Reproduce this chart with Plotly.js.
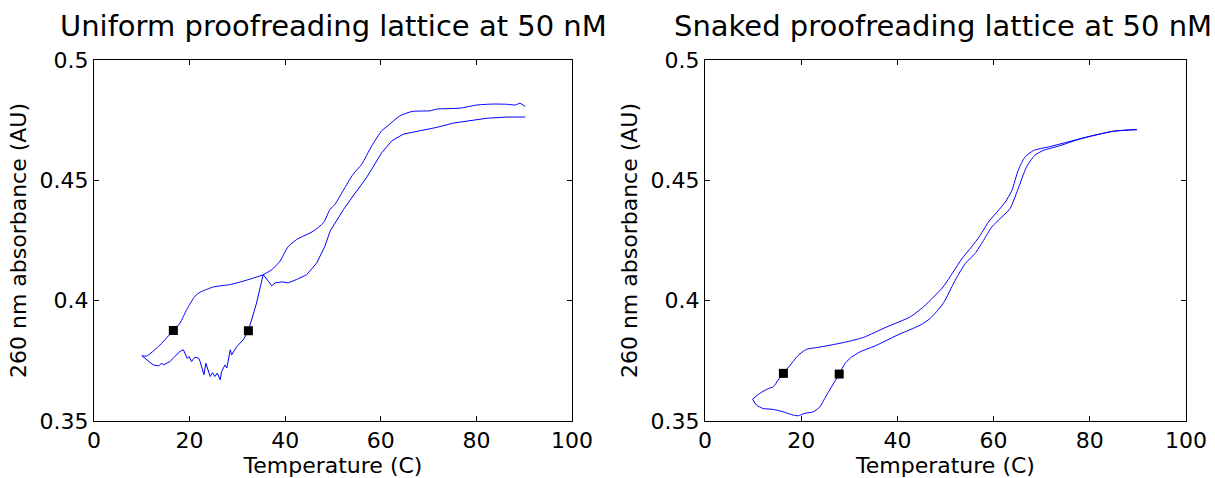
<!DOCTYPE html>
<html><head><meta charset="utf-8">
<script src="https://cdn.plot.ly/plotly-3.0.1.min.js"></script>
<style>html,body{margin:0;padding:0;background:#fff}#chart{width:1215px;height:478px}</style>
</head><body><div id="chart"></div>
<script>
// Uniform lattice: heating (lower path) and cooling (upper path)
const uniformHeatT = [10.0,11.4,12.4,13.5,14.2,14.5,15.4,15.9,16.9,18.0,18.7,19.5,19.9,20.4,21.1,21.9,22.2,22.5,23.0,23.4,23.9,24.3,24.8,25.3,25.8,26.4,26.7,27.4,27.8,28.1,28.5,28.8,29.9,31.2,32.3,34.0,35.4,37.2,37.9,39.3,40.6,42.4,44.5,46.6,48.3,49.4,52.2,54.2,57.0,60.2,62.3,64.7,68.2,71.7,75.2,80.1,82.2,86.3,90.2];
const uniformHeatA = [0.3771,0.3747,0.3733,0.3729,0.374,0.3733,0.374,0.3747,0.3768,0.3789,0.3796,0.376,0.3768,0.3747,0.3765,0.3761,0.3747,0.3726,0.3692,0.374,0.3705,0.3685,0.3701,0.3685,0.3699,0.3671,0.3705,0.3733,0.372,0.3761,0.3796,0.3775,0.381,0.3837,0.3875,0.399,0.4108,0.4062,0.4074,0.4078,0.4074,0.4088,0.4108,0.4157,0.4226,0.4289,0.4379,0.4435,0.4511,0.4615,0.4664,0.4692,0.4706,0.472,0.4738,0.475,0.4758,0.4763,0.4763];
const uniformCoolT = [90.2,89.1,88.1,86.3,83.5,80.1,76.6,71.7,70.3,66.5,64.0,61.6,60.2,58.1,56.0,54.2,52.5,50.4,49.4,48.0,45.9,42.4,40.6,38.9,37.2,35.4,31.9,28.5,25.0,22.2,21.1,19.4,18.0,16.6,13.5,11.0,10.0];
const uniformCoolA = [0.4807,0.482,0.4813,0.4816,0.4817,0.4813,0.48,0.4796,0.4789,0.4786,0.4768,0.4729,0.4706,0.4643,0.4567,0.4525,0.447,0.44,0.438,0.4324,0.4289,0.4254,0.4224,0.4164,0.4129,0.4108,0.4085,0.4067,0.4057,0.4035,0.4018,0.3963,0.3907,0.3876,0.381,0.377,0.3771];
const uniformMarkT = [16.6, 32.3];
const uniformMarkA = [0.3876, 0.3875];

// Snaked lattice
const snakedHeatT = [9.9,10.7,12.1,14.2,16.3,18.4,19.4,20.8,22.5,23.9,24.9,26.3,27.9,29.1,30.5,32.2,35.7,39.9,44.7,46.8,49.5,52.0,54.1,56.1,57.9,59.6,61.3,63.4,65.1,66.8,68.5,70.3,73.8,78.0,84.9,89.8];
const snakedHeatA = [0.3591,0.3566,0.3552,0.3548,0.3538,0.3524,0.3522,0.3532,0.3538,0.3559,0.3594,0.3642,0.3695,0.3739,0.3766,0.3787,0.3815,0.3856,0.3898,0.3926,0.3988,0.4084,0.4154,0.4195,0.425,0.4306,0.434,0.4382,0.4465,0.4554,0.4603,0.4624,0.4644,0.4672,0.4704,0.471];
const snakedCoolT = [89.8,84.9,80.0,75.9,71.7,68.3,66.5,65.1,63.8,62.4,60.7,58.9,57.2,55.4,53.4,51.6,49.5,47.5,45.4,42.6,37.8,32.9,29.5,26.0,23.2,21.1,19.4,17.7,16.3,15.2,14.2,13.2,11.4,9.9];
const snakedCoolA = [0.4712,0.4704,0.4683,0.4662,0.464,0.4624,0.4596,0.4541,0.4458,0.4409,0.4368,0.4326,0.4271,0.4223,0.4174,0.4119,0.4057,0.4015,0.3974,0.3932,0.3891,0.3847,0.3829,0.3815,0.3805,0.3798,0.3773,0.3732,0.3698,0.367,0.3642,0.3635,0.3615,0.3591];
const snakedMarkT = [16.3, 27.9];
const snakedMarkA = [0.3698, 0.3695];

const xTickVals = [0,20,40,60,80,100];
const xTickText = ['0','20','40','60','80','100'];
const yTickVals = [0.35,0.4,0.45,0.5];
const yTickText = ['0.35','0.4','0.45','0.5'];

const titles = ['Uniform proofreading lattice at 50 nM','Snaked proofreading lattice at 50 nM'];
const xLabel = 'Temperature (C)';
const yLabel = '260 nm absorbance (AU)';

const markStyle = {symbol:'square', size:9, color:'#000000'};
function line(x,y,xa,ya,smooth){
  const ln = {color:'#0000ff', width:1};
  if (smooth) { ln.shape = 'spline'; ln.smoothing = 0.6; }
  return {x:x,y:y,xaxis:xa,yaxis:ya,mode:'lines',line:ln,hoverinfo:'skip'};
}
function marks(x,y,xa,ya){return {x:x,y:y,xaxis:xa,yaxis:ya,mode:'markers',marker:markStyle,hoverinfo:'skip'};}

const data = [
  line(uniformHeatT,uniformHeatA,'x','y',false),
  line(uniformCoolT,uniformCoolA,'x','y',true),
  marks(uniformMarkT,uniformMarkA,'x','y'),
  line(snakedHeatT,snakedHeatA,'x2','y2',true),
  line(snakedCoolT,snakedCoolA,'x2','y2',true),
  marks(snakedMarkT,snakedMarkA,'x2','y2')
];

const fam = 'DejaVu Sans, Liberation Sans, Arial, sans-serif';
const font = {family:fam, size:22, color:'#000'};
function xax(dom, anchor){return {domain:dom, anchor:anchor, range:[0,100], tickvals:xTickVals, ticktext:xTickText,
  ticks:'inside', ticklen:5, tickcolor:'#000', showline:true, linecolor:'#000', linewidth:1, mirror:'ticks',
  showgrid:false, zeroline:false, tickfont:font, title:{text:xLabel, font:font, standoff:0}};}
function yax(dom, anchor){return {domain:dom, anchor:anchor, range:[0.35,0.5], tickvals:yTickVals, ticktext:yTickText,
  ticks:'inside', ticklen:5, tickcolor:'#000', showline:true, linecolor:'#000', linewidth:1, mirror:'ticks',
  showgrid:false, zeroline:false, tickfont:font, ticklabelstandoff:0, title:{text:yLabel, font:font, standoff:6}};}

const yDom = [1-421/478, 1-60/478];
const layout = {
  width:1215, height:478, margin:{l:0,r:0,t:0,b:0}, paper_bgcolor:'#fff', plot_bgcolor:'#fff',
  showlegend:false, font:font,
  xaxis: xax([94/1215, 572/1215], 'y'),
  yaxis: yax(yDom, 'x'),
  xaxis2: xax([705/1215, 1186/1215], 'y2'),
  yaxis2: yax(yDom, 'x2'),
  annotations: [
    {text:titles[0], xref:'paper', yref:'paper', x:333/1215, y:1-45/478, xanchor:'center', yanchor:'bottom', showarrow:false, font:{family:fam, size:29, color:'#000'}},
    {text:titles[1], xref:'paper', yref:'paper', x:943/1215, y:1-45/478, xanchor:'center', yanchor:'bottom', showarrow:false, font:{family:fam, size:29, color:'#000'}}
  ]
};
Plotly.newPlot('chart', data, layout, {staticPlot:true, displayModeBar:false});
</script></body></html>
